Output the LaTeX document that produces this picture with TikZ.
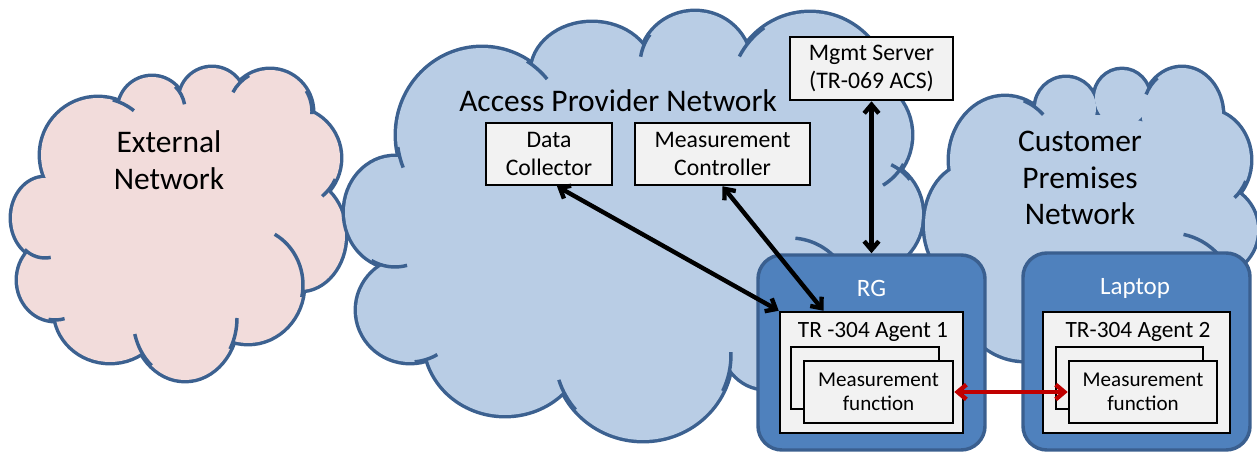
\documentclass[tikz,border=0pt]{standalone}
\usepackage{fontspec}
\setmainfont{Carlito}
\usetikzlibrary{arrows.meta}
\definecolor{cloudline}{HTML}{3C6190}
\definecolor{bluecloud}{HTML}{B9CDE5}
\definecolor{pinkcloud}{HTML}{F2DCDB}
\definecolor{devfill}{HTML}{4F81BD}
\definecolor{devedge}{HTML}{3A5F8F}
\definecolor{boxgrey}{HTML}{F2F2F2}
\definecolor{linkred}{HTML}{C00000}
\newcommand\cloudinarc[6]{\draw[cloudarc] (#1,#2) ++(#5:#3 and #4) arc[x radius=#3, y radius=#4, start angle=#5, end angle=#6];}
\tikzset{
  cloudedge/.style={draw=cloudline, line width=5.2pt},
  cloudarc/.style={draw=cloudline, line width=2.6pt},
  cloudtext/.style={inner sep=0pt, align=center, font=\fontsize{23.6}{27.5}\selectfont},
  greybox/.style={draw=black, fill=boxgrey, line width=1.9pt, inner sep=1pt, align=center, font=\fontsize{17.8}{21.5}\selectfont},
  mfbox/.style={draw=black, fill=boxgrey, line width=1.9pt, inner sep=1pt, align=center, font=\fontsize{15.8}{18}\selectfont},
  device/.style={draw=devedge, fill=devfill, line width=2.6pt, rounded corners=18pt},
  devlabel/.style={inner sep=0pt, text=white, font=\fontsize{18.75}{22}\selectfont},
  agentlabel/.style={inner sep=0pt, font=\fontsize{17.5}{21}\selectfont},
  conn/.style={line width=3.3pt, {Straight Barb[length=6.5pt,width=11pt]}-{Straight Barb[length=6.5pt,width=11pt]}},
}
\begin{document}
\begin{tikzpicture}[x=0.75pt,y=-0.75pt]
\useasboundingbox (0,0) rectangle (1257,452);
% ---------- External Network cloud ----------
\def\extlobes{98/155/57/57, 152/110/33/33, 212/100/32/32, 270/112/42/42, 290/158/50/50, 300/235/45/55, 248/285/55/58, 185/318/52/62, 110/310/55/52, 55/280/37/40, 45/218/33/40, 180/225/120/110}
\foreach \a/\b/\c/\d in \extlobes {\draw[cloudedge] (\a,\b) ellipse[x radius=\c, y radius=\d];}
\foreach \a/\b/\c/\d in \extlobes {\fill[pinkcloud] (\a,\b) ellipse[x radius=\c, y radius=\d];}
\cloudinarc{98}{155}{57}{57}{-75}{-51}
\cloudinarc{152}{110}{33}{33}{-45}{-10}
\cloudinarc{270}{112}{42}{42}{240}{208}
\cloudinarc{270}{112}{42}{42}{-30}{3}
\cloudinarc{290}{158}{50}{50}{25}{50}
\cloudinarc{248}{285}{55}{58}{-61}{12}
\cloudinarc{185}{318}{52}{62}{0}{30}
\cloudinarc{185}{318}{52}{62}{130}{165}
\cloudinarc{45}{218}{33}{40}{80}{128}
\cloudinarc{55}{280}{37}{40}{75}{100}
% ---------- Access Provider cloud ----------
\def\acclobes{482/135/85/87, 395/212/50/55, 410/310/53/52, 505/340/80/75, 643/355/88/85, 765/335/45/53, 790/300/62/62, 870/215/52/55, 855/135/56/58, 810/95/80/82, 695/65/55/53, 592/72/60/49, 630/230/240/150}
\foreach \a/\b/\c/\d in \acclobes {\draw[cloudedge] (\a,\b) ellipse[x radius=\c, y radius=\d];}
\foreach \a/\b/\c/\d in \acclobes {\fill[bluecloud] (\a,\b) ellipse[x radius=\c, y radius=\d];}
\cloudinarc{482}{135}{85}{87}{-58}{-40}
\cloudinarc{482}{135}{85}{87}{172}{158}
\cloudinarc{395}{212}{50}{55}{118}{76}
\cloudinarc{410}{310}{53}{52}{85}{59}
\cloudinarc{643}{355}{88}{85}{140}{163}
\cloudinarc{643}{355}{88}{85}{25}{-2}
\cloudinarc{790}{300}{62}{62}{-85}{-40}
\cloudinarc{870}{215}{52}{55}{-40}{-66}
\cloudinarc{855}{135}{56}{58}{30}{60}
\cloudinarc{810}{95}{80}{82}{235}{208}
\cloudinarc{695}{65}{55}{53}{215}{189}
% ---------- Customer Premises cloud ----------
\def\cuslobes{970/225/45/60, 1025/295/65/65, 1005/160/55/63, 1066/108/30/30, 1122/98/27/28, 1182/115/40/47, 1205/160/45/50, 1212/230/45/45, 1170/298/65/65, 1095/210/130/95}
\foreach \a/\b/\c/\d in \cuslobes {\draw[cloudedge] (\a,\b) ellipse[x radius=\c, y radius=\d];}
\foreach \a/\b/\c/\d in \cuslobes {\fill[bluecloud] (\a,\b) ellipse[x radius=\c, y radius=\d];}
\cloudinarc{1005}{160}{55}{63}{-70}{-46}
\cloudinarc{1182}{115}{40}{47}{232}{206}
\cloudinarc{1205}{160}{45}{50}{25}{49}
\cloudinarc{1170}{298}{65}{65}{-78}{-42}
% ---------- cloud labels ----------
\node[cloudtext] (extlbl) at (169,160) {External\\Network};
\node[cloudtext] (acclbl) at (618,101) {Access Provider Network};
\node[cloudtext] (cuslbl) at (1080,178) {Customer\\Premises\\Network};
% ---------- boxes ----------
\node[greybox, minimum width=94.5pt, minimum height=46.5pt] (dc) at (549,154) {Data\\Collector};
\node[greybox, minimum width=131.25pt, minimum height=46.5pt] (mc) at (722.5,154) {Measurement\\Controller};
\node[greybox, minimum width=122.25pt, minimum height=47.25pt] (mgmt) at (871.5,68.5) {Mgmt Server\\(TR-069 ACS)};
% RG
\node[device, minimum width=170.25pt, minimum height=146.25pt] (rg) at (871.5,352.5) {};
\node[devlabel] (rglbl) at (871.5,288) {RG};
\node[greybox, minimum width=137.25pt, minimum height=90.75pt] (agent1) at (871.5,372.5) {};
\node[agentlabel] (agent1lbl) at (873,332) {TR -304 Agent 1};
\node[greybox, minimum width=111pt, minimum height=46.5pt] (back1) at (865,378) {};
\node[mfbox, minimum width=111.75pt, minimum height=46.5pt] (mf1) at (878.5,392) {Measurement\\function};
% Laptop
\node[device, minimum width=170.25pt, minimum height=147.75pt] (laptop) at (1136.5,351.5) {};
\node[devlabel] (laptoplbl) at (1135,288) {Laptop};
\node[greybox, minimum width=140.25pt, minimum height=90.75pt] (agent2) at (1136.5,372.5) {};
\node[agentlabel] (agent2lbl) at (1138,332) {TR-304 Agent 2};
\node[greybox, minimum width=110.25pt, minimum height=46.5pt] (back2) at (1129.5,378) {};
\node[mfbox, minimum width=111pt, minimum height=46.5pt] (mf2) at (1143,392) {Measurement\\function};
% ---------- connectors ----------
\draw[conn] ([xshift=6pt]dc.south) -- (agent1.north west);
\draw[conn] (mc.south) -- ([xshift=-36pt]agent1.north);
\draw[conn] (mgmt.south) -- (rg.north);
\draw[conn, draw=linkred] (mf1.east) -- (mf2.west);
\end{tikzpicture}
\end{document}
